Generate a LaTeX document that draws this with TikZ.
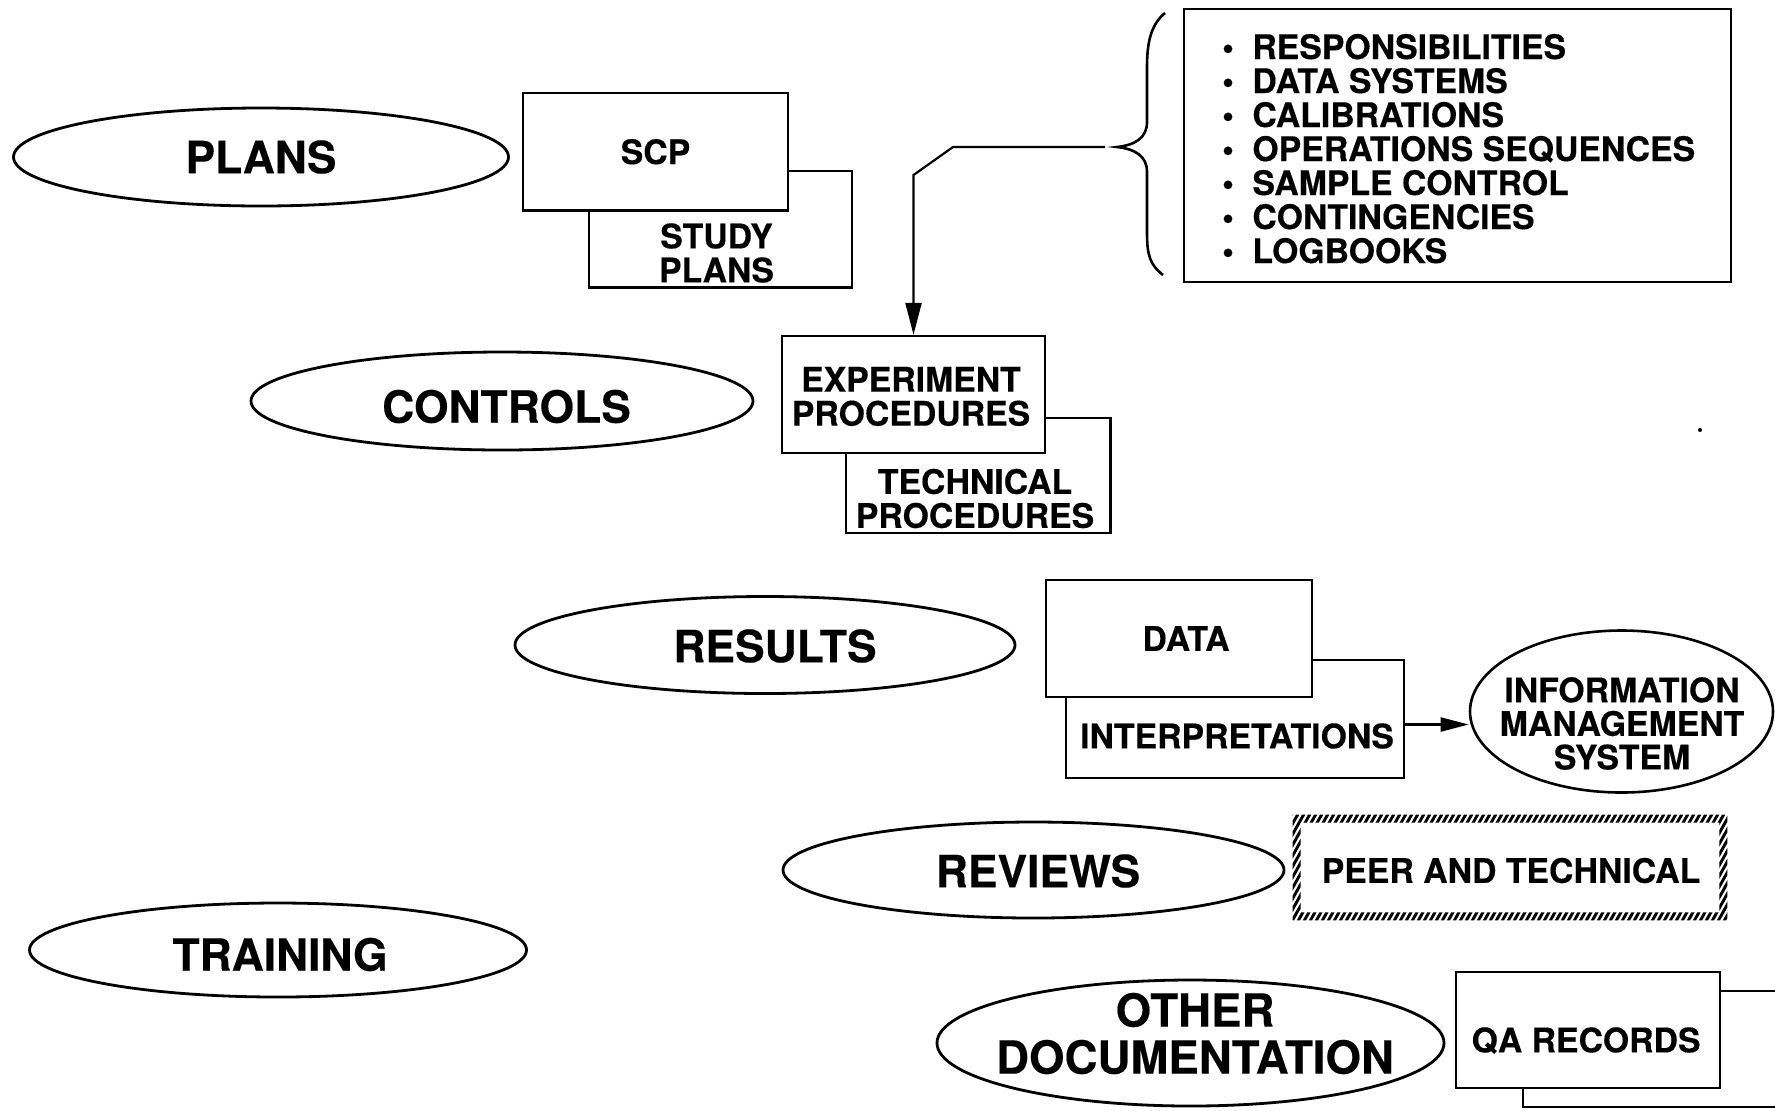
\documentclass[tikz,border=0pt]{standalone}
\usepackage{fontspec}
\setmainfont{TeX Gyre Heros}[BoldFeatures={FakeBold=0.35}]
\usetikzlibrary{shapes.geometric,arrows.meta,calc}
\begin{document}
\begin{tikzpicture}[x=0.5pt,y=-0.5pt,
  ell/.style={draw, ellipse, line width=1.4pt, inner sep=0pt},
  bigtxt/.style={font=\fontsize{22.2}{23.5}\selectfont\bfseries, align=center, inner sep=0pt},
  boxtxt/.style={font=\fontsize{16.9}{17}\selectfont\bfseries, align=center, inner sep=0pt},
  box/.style={draw, line width=1.15pt, fill=white, inner sep=0pt},
  conn/.style={line width=1.1pt},
  bigarrow/.style={conn, -{Triangle[length=16pt,width=8pt]}},
  smallarrow/.style={conn, -{Triangle[length=14pt,width=7pt]}},
  ]
\useasboundingbox (0,0) rectangle (1775,1110);
\clip (0,0) rectangle (1775,1110);
\fill[white] (0,0) rectangle (1775,1110);

% ---- Plans
\node[ell, minimum width=247.5pt, minimum height=49pt] (plans) at (261,157) {};
\node[bigtxt] (plansT) at (plans) {PLANS};
\node[box, minimum width=131.5pt, minimum height=58.25pt] (study) at (720.5,229.25) {};
\node[boxtxt] (studyT) at (716.5,253) {STUDY\\PLANS};
\node[box, minimum width=132.5pt, minimum height=58.75pt] (scp) at (655.5,151.75) {};
\node[boxtxt] (scpT) at (scp) {SCP};

% ---- List of procedure contents
\node[box, minimum width=273.5pt, minimum height=136.5pt] (list) at (1457.5,145.5) {};
\foreach \t [count=\k from 0] in {RESPONSIBILITIES, DATA SYSTEMS, CALIBRATIONS,
    OPERATIONS SEQUENCES, SAMPLE CONTROL, CONTINGENCIES, LOGBOOKS} {
  \node[boxtxt, anchor=base] (bul\k) at (1228,{59+34*\k}) {\textbullet};
  \node[boxtxt, anchor=base west] (item\k) at (1252,{59+34*\k}) {\t};
}
% brace gathering the list
\coordinate (brtip) at (1117,147);
\draw[line width=1.3pt] (1165,13) .. controls (1150,25) and (1147,45) .. (1147,67)
  -- (1147,122) .. controls (1147,138) and (1135,145) .. (brtip)
  .. controls (1135,149) and (1147,156) .. (1147,172)
  -- (1147,233) .. controls (1147,255) and (1150,265) .. (1163,275);

% ---- Controls
\node[ell, minimum width=251pt, minimum height=49pt] (controls) at (502,401) {};
\node[bigtxt] (controlsT) at (506.5,406.5) {CONTROLS};
\node[box, minimum width=132.25pt, minimum height=57.5pt] (tech) at (978.25,475.5) {};
\node[boxtxt] (techT) at (975,498.5) {TECHNICAL\\PROCEDURES};
\node[box, minimum width=131.5pt, minimum height=58.5pt] (exp) at (913.5,394.5) {};
\node[boxtxt] (expT) at (911,396.5) {EXPERIMENT\\PROCEDURES};

\draw[bigarrow] ([xshift=-6pt]brtip) -- (953,147) -- (exp.north |- 0,175) -- (exp.north);

% ---- Results
\node[ell, minimum width=250pt, minimum height=48.5pt] (results) at (765,645) {};
\node[bigtxt] (resultsT) at (775,646) {RESULTS};
\node[box, minimum width=169pt, minimum height=59pt] (interp) at (1235,719) {};
\node[boxtxt] (interpT) at (1237,736) {INTERPRETATIONS};
\node[box, minimum width=133pt, minimum height=58.5pt] (data) at (1179,638.5) {};
\node[boxtxt] (dataT) at (1186,638.5) {DATA};
\node[ell, line width=1.3pt, minimum width=151.5pt, minimum height=81pt] (ims) at (1621.5,711.5) {};
\node[boxtxt, font=\fontsize{16.9}{16.8}\selectfont\bfseries] (imsT) at (1622,723.5) {INFORMATION\\MANAGEMENT\\SYSTEM};
\draw[smallarrow] ([yshift=-2.75pt]interp.east) -- ([yshift=-2.75pt]interp.east -| ims.west);

% ---- Reviews
\node[ell, minimum width=250.5pt, minimum height=48pt] (reviews) at (1033.5,870) {};
\node[bigtxt] (reviewsT) at (1038,871) {REVIEWS};
\node[boxtxt, minimum width=217pt, minimum height=52.5pt] (peer) at (1510,867.5) {};
\node[boxtxt] (peerT) at (1511,870.5) {PEER AND TECHNICAL};
\begin{scope}[even odd rule]
  \clip (peer.south west) rectangle (peer.north east)
    ([xshift=4pt,yshift=4pt]peer.south west) rectangle ([xshift=-4pt,yshift=-4pt]peer.north east);
  \foreach \i in {-78,-72,...,444}
    \draw[line width=1.45pt] ({1293+\i},930) -- ({1293+\i+70},805);
\end{scope}

% ---- Training
\node[ell, minimum width=248.5pt, minimum height=47pt] (training) at (278,950) {};
\node[bigtxt] (trainingT) at (280,954.5) {TRAINING};

% ---- Other documentation
\node[ell, minimum width=253.5pt, minimum height=63pt] (other) at (1190.5,1043) {};
\node[bigtxt, font=\fontsize{22.8}{23.5}\selectfont\bfseries] (otherT) at (1195,1033.5) {OTHER\\DOCUMENTATION};
\node[box, minimum width=132pt, minimum height=58pt] (qaback) at (1655,1049) {};
\node[box, minimum width=132pt, minimum height=58pt] (qa) at (1588,1030) {};
\node[boxtxt] (qaT) at (1586,1040.5) {QA RECORDS};

% small speck
\fill (1700,430) circle (1pt);
\end{tikzpicture}
\end{document}
